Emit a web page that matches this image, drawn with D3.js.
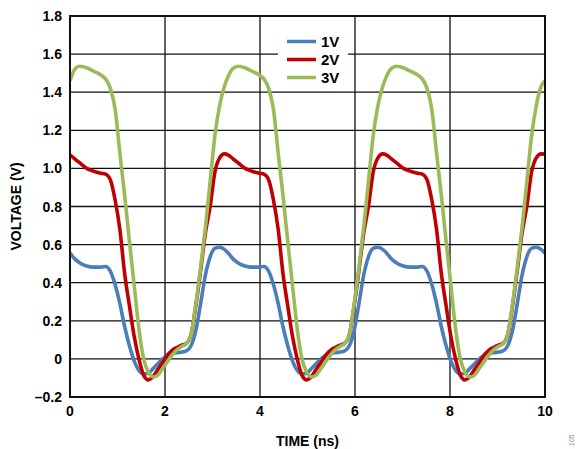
<!DOCTYPE html>
<html>
<head>
<meta charset="utf-8">
<script src="https://cdn.jsdelivr.net/npm/d3@7"></script>
<style>
  html, body { margin: 0; padding: 0; background: #fff; }
  svg { display: block; font-family: "Liberation Sans", Arial, sans-serif; }
</style>
</head>
<body>
<div id="chart"></div>
<script>
// ---- data ----
const timeNs = [
  0, 0.1, 0.2, 0.35, 0.5, 0.65, 0.75, 0.85, 0.95, 1.05, 1.15, 1.25, 1.35, 1.45, 1.55, 1.65,
  1.75, 1.85, 1.95, 2.05, 2.15, 2.25, 2.35, 2.45, 2.55, 2.65, 2.75, 2.85, 2.95, 3.05, 3.15, 3.25,
  3.333, 3.433, 3.533, 3.683, 3.833, 3.983, 4.083, 4.183, 4.283, 4.383, 4.483, 4.583, 4.683, 4.783, 4.883, 4.983,
  5.083, 5.183, 5.283, 5.383, 5.483, 5.583, 5.683, 5.783, 5.883, 5.983, 6.083, 6.183, 6.283, 6.383, 6.483, 6.583,
  6.667, 6.767, 6.867, 7.017, 7.167, 7.317, 7.417, 7.517, 7.617, 7.717, 7.817, 7.917, 8.017, 8.117, 8.217, 8.317,
  8.417, 8.517, 8.617, 8.717, 8.817, 8.917, 9.017, 9.117, 9.217, 9.317, 9.417, 9.517, 9.617, 9.717, 9.817, 9.917,
  10
];

const v1 = [
  0.555, 0.525, 0.505, 0.488, 0.482, 0.482, 0.485, 0.46, 0.39, 0.29, 0.17, 0.07, -0.01, -0.06, -0.078, -0.075,
  -0.05, -0.025, 0.0, 0.018, 0.028, 0.033, 0.036, 0.042, 0.07, 0.15, 0.29, 0.44, 0.536, 0.58, 0.586, 0.575,
  0.555, 0.525, 0.505, 0.488, 0.482, 0.482, 0.485, 0.46, 0.39, 0.29, 0.17, 0.07, -0.01, -0.06, -0.078, -0.075,
  -0.05, -0.025, 0.0, 0.018, 0.028, 0.033, 0.036, 0.042, 0.07, 0.15, 0.29, 0.44, 0.536, 0.58, 0.586, 0.575,
  0.555, 0.525, 0.505, 0.488, 0.482, 0.482, 0.485, 0.46, 0.39, 0.29, 0.17, 0.07, -0.01, -0.06, -0.078, -0.075,
  -0.05, -0.025, 0.0, 0.018, 0.028, 0.033, 0.036, 0.042, 0.07, 0.15, 0.29, 0.44, 0.536, 0.58, 0.586, 0.575,
  0.555
];

const v2 = [
  1.07, 1.05, 1.03, 1.0, 0.985, 0.975, 0.97, 0.94, 0.834, 0.68, 0.45, 0.28, 0.12, 0.0, -0.085, -0.11,
  -0.093, -0.055, -0.02, 0.02, 0.045, 0.06, 0.072, 0.082, 0.13, 0.28, 0.465, 0.66, 0.8, 0.98, 1.055, 1.076,
  1.07, 1.05, 1.03, 1.0, 0.985, 0.975, 0.97, 0.94, 0.834, 0.68, 0.45, 0.28, 0.12, 0.0, -0.085, -0.11,
  -0.093, -0.055, -0.02, 0.02, 0.045, 0.06, 0.072, 0.082, 0.13, 0.28, 0.465, 0.66, 0.8, 0.98, 1.055, 1.076,
  1.07, 1.05, 1.03, 1.0, 0.985, 0.975, 0.97, 0.94, 0.834, 0.68, 0.45, 0.28, 0.12, 0.0, -0.085, -0.11,
  -0.093, -0.055, -0.02, 0.02, 0.045, 0.06, 0.072, 0.082, 0.13, 0.28, 0.465, 0.66, 0.8, 0.98, 1.055, 1.076,
  1.075
];

const v3 = [
  1.46, 1.52, 1.536, 1.528, 1.51, 1.49, 1.47, 1.42, 1.31, 1.08, 0.86, 0.62, 0.39, 0.16, 0.0, -0.07,
  -0.095, -0.085, -0.05, -0.015, 0.02, 0.047, 0.065, 0.08, 0.13, 0.29, 0.48, 0.69, 0.93, 1.17, 1.33, 1.43,
  1.485, 1.525, 1.536, 1.528, 1.51, 1.49, 1.47, 1.42, 1.31, 1.08, 0.86, 0.62, 0.39, 0.16, 0.0, -0.07,
  -0.095, -0.085, -0.05, -0.015, 0.02, 0.047, 0.065, 0.08, 0.13, 0.29, 0.48, 0.69, 0.93, 1.17, 1.33, 1.43,
  1.485, 1.525, 1.536, 1.528, 1.51, 1.49, 1.47, 1.42, 1.31, 1.08, 0.86, 0.62, 0.39, 0.16, 0.0, -0.07,
  -0.095, -0.085, -0.05, -0.015, 0.02, 0.047, 0.065, 0.08, 0.13, 0.29, 0.48, 0.69, 0.93, 1.17, 1.33, 1.43,
  1.46
];

const seriesNames = ['1V', '2V', '3V'];
const seriesColors = ['#4a7ebb', '#c00000', '#9bbb59'];
const xTicks = [0, 2, 4, 6, 8, 10];
const yTicks = [-0.2, 0, 0.2, 0.4, 0.6, 0.8, 1.0, 1.2, 1.4, 1.6, 1.8];

// ---- layout ----
const width = 577, height = 449;
const margin = { top: 16, right: 32, bottom: 52, left: 70 };
const plotW = width - margin.left - margin.right;
const plotH = height - margin.top - margin.bottom;

const svg = d3.select('#chart').append('svg')
  .attr('width', width)
  .attr('height', height);

const x = d3.scaleLinear().domain([0, 10]).range([margin.left, margin.left + plotW]);
const y = d3.scaleLinear().domain([-0.2, 1.8]).range([margin.top + plotH, margin.top]);

const fmtY = d => d === 0 ? '0' : (d < 0 ? '\u2013' + Math.abs(d).toFixed(1) : d.toFixed(1));

// grid
const grid = svg.append('g');
grid.selectAll('line.h').data(yTicks).enter().append('line')
  .attr('class', 'h')
  .attr('x1', margin.left).attr('x2', margin.left + plotW)
  .attr('y1', d => y(d)).attr('y2', d => y(d))
  .attr('stroke', '#111').attr('stroke-width', 1.3);
grid.selectAll('line.v').data(xTicks).enter().append('line')
  .attr('class', 'v')
  .attr('y1', margin.top).attr('y2', margin.top + plotH)
  .attr('x1', d => x(d)).attr('x2', d => x(d))
  .attr('stroke', '#111').attr('stroke-width', 1.3);

// y tick labels
svg.append('g').selectAll('text').data(yTicks).enter().append('text')
  .attr('x', margin.left - 8)
  .attr('y', d => y(d) + 5)
  .attr('text-anchor', 'end')
  .attr('font-size', '14px').attr('font-weight', 'bold')
  .text(fmtY);

// x tick labels
svg.append('g').selectAll('text').data(xTicks).enter().append('text')
  .attr('x', d => x(d))
  .attr('y', margin.top + plotH + 19)
  .attr('text-anchor', 'middle')
  .attr('font-size', '14px').attr('font-weight', 'bold')
  .text(d => d);

// axis titles
svg.append('text')
  .attr('transform', `translate(21,${margin.top + plotH / 2}) rotate(-90)`)
  .attr('text-anchor', 'middle')
  .attr('font-size', '14px').attr('font-weight', 'bold')
  .text('VOLTAGE (V)');
svg.append('text')
  .attr('x', margin.left + plotW / 2)
  .attr('y', 446)
  .attr('text-anchor', 'middle')
  .attr('font-size', '14px').attr('font-weight', 'bold')
  .text('TIME (ns)');

// legend (white box over grid)
const legend = svg.append('g');
legend.append('rect')
  .attr('x', 278).attr('y', 30).attr('width', 70).attr('height', 58)
  .attr('fill', '#fff');
seriesNames.forEach((name, i) => {
  const ly = 41.5 + i * 18;
  legend.append('line')
    .attr('x1', 287).attr('x2', 316)
    .attr('y1', ly).attr('y2', ly)
    .attr('stroke', seriesColors[i]).attr('stroke-width', 3.5);
  legend.append('text')
    .attr('x', 321).attr('y', ly + 5.5)
    .attr('font-size', '15px').attr('font-weight', 'bold')
    .text(name);
});

// curves
const seriesValues = [v1, v2, v3];
const line = d3.line()
  .x(d => x(d[0]))
  .y(d => y(d[1]))
  .curve(d3.curveMonotoneX);

svg.append('defs').append('clipPath').attr('id', 'clip')
  .append('rect')
  .attr('x', margin.left).attr('y', margin.top)
  .attr('width', plotW).attr('height', plotH);

const curves = svg.append('g').attr('clip-path', 'url(#clip)');
seriesValues.forEach((vals, i) => {
  curves.append('path')
    .datum(timeNs.map((t, k) => [t, vals[k]]))
    .attr('fill', 'none')
    .attr('stroke', seriesColors[i])
    .attr('stroke-width', 3.6)
    .attr('stroke-linejoin', 'round')
    .attr('d', line);
});

// plot frame
svg.append('rect')
  .attr('x', margin.left).attr('y', margin.top)
  .attr('width', plotW).attr('height', plotH)
  .attr('fill', 'none').attr('stroke', '#111').attr('stroke-width', 2);

// figure number stamp
svg.append('text')
  .attr('transform', 'translate(574,446) rotate(-90)')
  .attr('font-size', '7px').attr('fill', '#888')
  .text('105');
</script>
</body>
</html>
